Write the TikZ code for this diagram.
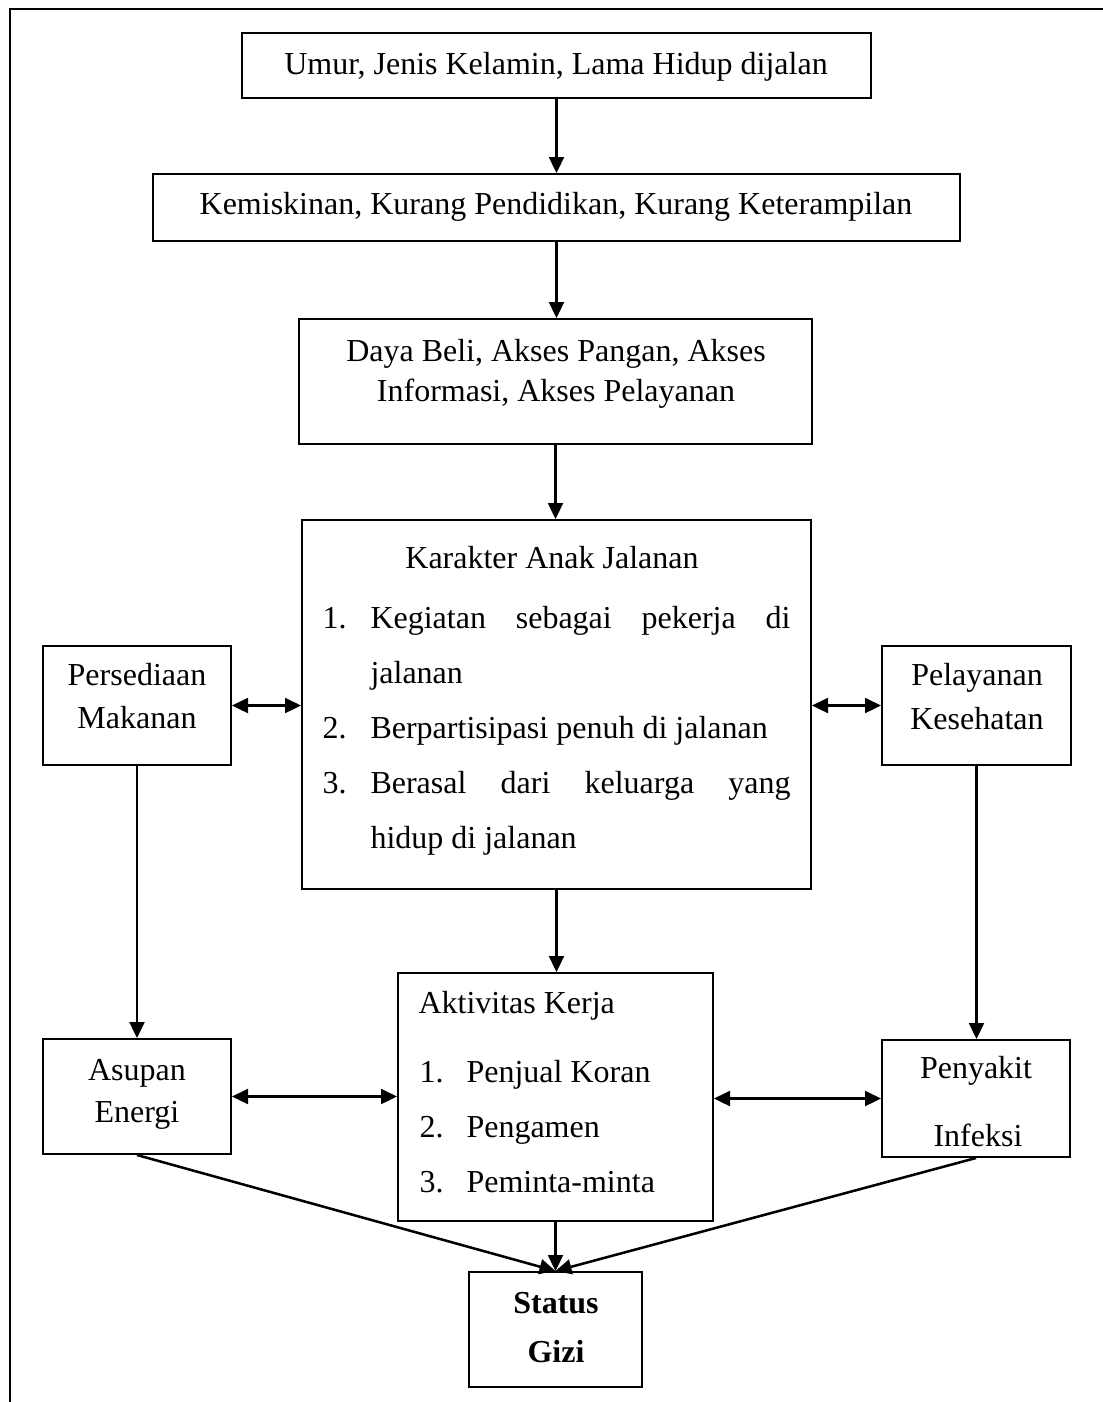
\documentclass[tikz,border=0pt]{standalone}
\usepackage{fontspec}
\setmainfont{Liberation Serif}
\usetikzlibrary{arrows.meta,fit}
\tikzset{
  box/.style={draw, line width=0.75pt, inner sep=0pt, rectangle},
  txt/.style={anchor=base, inner sep=0pt, font=\fontsize{12}{14}\selectfont},
  txtw/.style={anchor=base west, inner sep=0pt, font=\fontsize{12}{14}\selectfont},
  arr/.style={line width=0.95pt, -{Triangle[length=6pt,width=5.6pt]}},
  darr/.style={line width=0.95pt, {Triangle[length=6pt,width=5.6pt]}-{Triangle[length=6pt,width=5.6pt]}},
  frame/.style={line width=1.1pt}
}
\begin{document}
\begin{tikzpicture}[x=0.375pt,y=-0.375pt]
\useasboundingbox (0,0) rectangle (1103,1402);
% page frame (top and left edges only)
\draw[frame] (10,1402) -- (10,9) -- (1103,9);

% boxes
\node[box, fit={(242,33) (871,98)}] (b1) {};
\node[box, fit={(153,174) (960,241)}] (b2) {};
\node[box, fit={(299,319) (812,444)}] (b3) {};
\node[box, fit={(302,520) (811,889)}] (kar) {};
\node[box, fit={(43,646) (231,765)}] (pers) {};
\node[box, fit={(882,646) (1071,765)}] (pel) {};
\node[box, fit={(43,1039) (231,1154)}] (asup) {};
\node[box, fit={(398,973) (713,1221)}] (akt) {};
\node[box, fit={(882,1040) (1070,1157)}] (peny) {};
\node[box, fit={(469,1272) (642,1387)}] (stat) {};

% texts
\node[txt] (t1) at (556,74) {Umur, Jenis Kelamin, Lama Hidup dijalan};
\node[txt] (t2) at (556,214) {Kemiskinan, Kurang Pendidikan, Kurang Keterampilan};
\node[txt] (t3a) at (556,361) {Daya Beli, Akses Pangan, Akses};
\node[txt] (t3b) at (556,401) {Informasi, Akses Pelayanan};

\node[txt] (kt) at (552,568) {Karakter Anak Jalanan};
\node[txtw] (kn1) at (322,628) {1.};
\node[txtw] (kl1) at (370,628) {\hbox to 157.5pt{Kegiatan\hfill sebagai\hfill pekerja\hfill di}};
\node[txtw] (kl1b) at (370,683) {jalanan};
\node[txtw] (kn2) at (322,738) {2.};
\node[txtw] (kl2) at (370,738) {Berpartisipasi penuh di jalanan};
\node[txtw] (kn3) at (322,793) {3.};
\node[txtw] (kl3) at (370,793) {\hbox to 157.5pt{Berasal\hfill dari\hfill keluarga\hfill yang}};
\node[txtw] (kl3b) at (370,848) {hidup di jalanan};

\node[txt] (pa) at (137,685) {Persediaan};
\node[txt] (pb) at (137,728) {Makanan};
\node[txt] (la) at (977,685) {Pelayanan};
\node[txt] (lb) at (977,729) {Kesehatan};

\node[txt] (aa) at (137,1080) {Asupan};
\node[txt] (ab) at (137,1122) {Energi};

\node[txtw] (at) at (418,1013) {Aktivitas Kerja};
\node[txtw] (an1) at (419,1082) {1.};
\node[txtw] (al1) at (466,1082) {Penjual Koran};
\node[txtw] (an2) at (419,1137) {2.};
\node[txtw] (al2) at (466,1137) {Pengamen};
\node[txtw] (an3) at (419,1192) {3.};
\node[txtw] (al3) at (466,1192) {Peminta-minta};

\node[txt] (ya) at (976,1078) {Penyakit};
\node[txt] (yb) at (978,1146) {Infeksi};

\node[txt] (sa) at (556,1313) {\bfseries Status};
\node[txt] (sb) at (556,1362) {\bfseries Gizi};

% connectors
\draw[arr] (b1.south) -- (b1.south |- b2.north);
\draw[arr] (b2.south) -- (b2.south |- b3.north);
\draw[arr] (b3.south) -- (b3.south |- kar.north);
\draw[arr] (kar.south) -- (kar.south |- akt.north);
\draw[arr] (akt.south) -- (akt.south |- stat.north);
\draw[arr] (pers.south) -- (pers.south |- asup.north);
\draw[arr] (pel.south) -- (pel.south |- peny.north);
\draw[arr] (asup.south) -- (stat.north);
\draw[arr] (peny.south) -- (stat.north);
\draw[darr] (pers.east) -- (pers.east -| kar.west);
\draw[darr] (pel.west) -- (pel.west -| kar.east);
\draw[darr] (asup.east) -- (asup.east -| akt.west);
\draw[darr] (peny.west) -- (peny.west -| akt.east);
\end{tikzpicture}
\end{document}
